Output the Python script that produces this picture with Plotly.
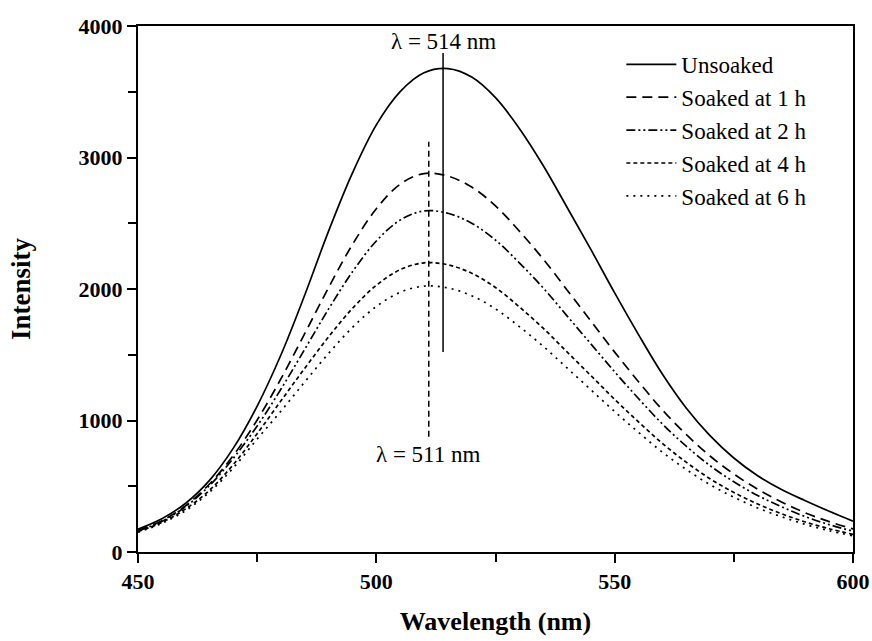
import plotly.graph_objects as go

wavelength = [450, 455, 460, 465, 470, 475, 480, 485, 490, 495, 500, 505, 510,
              515, 520, 525, 530, 535, 540, 545, 550, 555, 560, 565, 570, 575,
              580, 585, 590, 595, 600]

unsoaked = [174, 253, 371, 545, 790, 1110, 1500, 1956, 2442, 2883, 3248, 3501, 3644,
            3676, 3612, 3455, 3221, 2939, 2622, 2301, 1970, 1653, 1353, 1095, 885, 715,
            580, 475, 390, 310, 235]
soaked_1h = [165, 238, 352, 517, 734, 1004, 1318, 1662, 2012, 2339, 2610, 2797, 2878,
             2859, 2775, 2632, 2440, 2228, 1993, 1757, 1520, 1295, 1081, 894, 730, 593,
             478, 381, 298, 231, 175]
soaked_2h = [160, 232, 345, 505, 713, 958, 1239, 1543, 1849, 2131, 2365, 2524, 2594,
             2576, 2500, 2372, 2199, 2008, 1796, 1583, 1370, 1167, 974, 805, 657, 534,
             430, 344, 269, 208, 158]
soaked_4h = [155, 225, 328, 470, 665, 900, 1150, 1398, 1637, 1853, 2028, 2147, 2199,
             2184, 2120, 2011, 1864, 1702, 1522, 1342, 1161, 989, 826, 683, 557, 453,
             365, 291, 228, 177, 134]
soaked_6h = [150, 218, 315, 455, 640, 859, 1072, 1294, 1511, 1708, 1867, 1975, 2022,
             2008, 1949, 1849, 1714, 1565, 1400, 1234, 1068, 910, 759, 628, 512, 417,
             335, 268, 210, 162, 123]

series_names = ["Unsoaked", "Soaked at 1 h", "Soaked at 2 h", "Soaked at 4 h", "Soaked at 6 h"]
series_values = [unsoaked, soaked_1h, soaked_2h, soaked_4h, soaked_6h]
series_dash = ["solid", "10px,6px", "9px,3px,2px,3px,2px,3px", "4px,3px", "2px,5px"]

peak_unsoaked_x = [514, 514]
peak_unsoaked_y = [1520, 3795]
peak_soaked_x = [511, 511]
peak_soaked_y = [877, 3120]

x_ticks = [450, 500, 550, 600]
y_ticks = [0, 1000, 2000, 3000, 4000]

SERIF = "Liberation Serif"

fig = go.Figure()
for name, vals, dash in zip(series_names, series_values, series_dash):
    fig.add_trace(go.Scatter(
        x=wavelength, y=vals, name=name, mode="lines",
        line=dict(color="black", width=1.7, dash=dash, shape="spline", smoothing=1.0),
    ))

fig.add_trace(go.Scatter(x=peak_unsoaked_x, y=peak_unsoaked_y, mode="lines",
                         line=dict(color="black", width=1.5), showlegend=False))
fig.add_trace(go.Scatter(x=peak_soaked_x, y=peak_soaked_y, mode="lines",
                         line=dict(color="black", width=1.5, dash="6px,4px"), showlegend=False))

fig.add_annotation(x=514, y=3880, text="λ = 514 nm", showarrow=False,
                   font=dict(family=SERIF, size=23, color="black"))
fig.add_annotation(x=511, y=738, text="λ = 511 nm", showarrow=False,
                   font=dict(family=SERIF, size=23, color="black"))

axis_common = dict(
    showline=True, linecolor="black", linewidth=2, mirror=True,
    ticks="outside", ticklen=9, tickwidth=2, tickcolor="black",
    showgrid=False, zeroline=False, automargin=False,
    tickfont=dict(family=SERIF, size=22, color="black", weight="bold"),
)

fig.update_xaxes(
    range=[450, 600], tickvals=x_ticks,
    minor=dict(ticks="outside", ticklen=8, tickwidth=2, tickcolor="black", dtick=25, tick0=450),
    title=dict(text="Wavelength (nm)", font=dict(family=SERIF, size=26, color="black", weight="bold"),
               standoff=18),
    **axis_common,
)
fig.update_yaxes(
    range=[0, 4000], tickvals=y_ticks,
    minor=dict(ticks="outside", ticklen=8, tickwidth=2, tickcolor="black", dtick=500, tick0=0),
    title=dict(text="Intensity", font=dict(family=SERIF, size=27, color="black", weight="bold"),
               standoff=40),
    **axis_common,
)

fig.update_layout(
    width=872, height=641,
    margin=dict(l=138, r=19, t=26, b=89),
    paper_bgcolor="white", plot_bgcolor="white",
    showlegend=True,
    legend=dict(x=0.676, y=0.968, xanchor="left", yanchor="top",
                bgcolor="rgba(0,0,0,0)", borderwidth=0,
                font=dict(family=SERIF, size=23, color="black"),
                itemwidth=50, tracegroupgap=0),
)

fig.write_html("out.html")
